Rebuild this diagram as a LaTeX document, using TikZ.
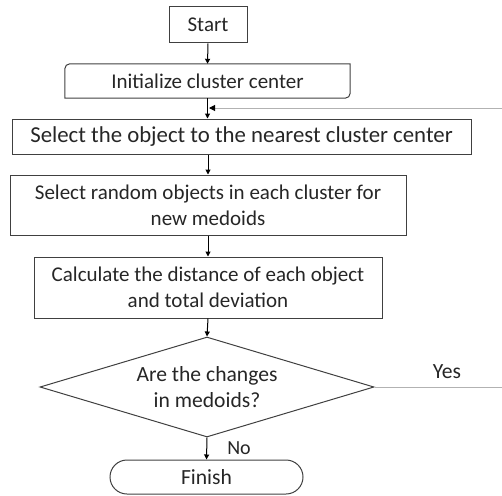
\documentclass[tikz,border=0pt]{standalone}
\usepackage{fontspec}
\setmainfont{Carlito}
\usetikzlibrary{shapes.geometric,shapes.misc,arrows.meta,calc}
\begin{document}
\begin{tikzpicture}[x=1pt,y=-1pt,
  every node/.style={font=\fontsize{21}{26}\selectfont, text=black!85, align=center, inner sep=0pt},
  big/.style={font=\fontsize{22.8}{26}\selectfont},
  mid/.style={font=\fontsize{21.6}{26}\selectfont},
  box/.style={draw=black!75, line width=1pt, rectangle},
  flow/.style={draw=black, line width=1pt, -{Triangle[length=5pt,width=5pt]}},
  loopline/.style={draw=black!30, line width=1pt},
  looparrow/.style={draw=black!30, line width=1pt, -{Triangle[length=6pt,width=6pt,color=black]}}]
\useasboundingbox (0,0) rectangle (502,495);
\node[box, minimum width=78pt, minimum height=36pt] (start) at (208,25) {Start};
\node[minimum width=285pt, minimum height=34pt] (init) at (207.5,81) {Initialize cluster center};
\draw[black!75, line width=1pt] (init.west) [rounded corners=5pt] |- (init.north) [sharp corners] -| (init.east) [rounded corners=5pt] |- (init.south) [sharp corners] -| (init.west);
\node[box, big, minimum width=459pt, minimum height=35pt] (sel) at (241.5,136.5) {Select the object to the nearest cluster center};
\node[box, minimum width=396pt, minimum height=60pt] (rand) at (208,205) {Select random objects in each cluster for\\new medoids};
\node[box, minimum width=348pt, minimum height=61pt] (calc) at (208,287.5) {Calculate the distance of each object\\and total deviation};
\node[draw=black!75, line width=1pt, diamond, aspect=3.34, minimum width=334pt, minimum height=100pt, mid] (dec) at (207,387) {Are the changes\\in medoids?};
\node[draw=black!75, line width=1pt, rounded rectangle, minimum width=193pt, minimum height=34pt, mid] (fin) at (206.5,477) {Finish};
\node[mid] (yes) at (447,372) {Yes};
\node[font=\fontsize{20}{24}\selectfont] (no) at (239,448) {No};
\coordinate (yesend) at (502,387);
\coordinate (loopstart) at (502,108);
\coordinate (loopend) at (209,108);
\draw[flow] (start.south) -- (init.north);
\draw[flow] (init.south) -- (init.south |- sel.north);
\draw[flow] (rand.north |- sel.south) -- (rand.north);
\draw[flow] (rand.south) -- (calc.north);
\draw[flow] (calc.south) -- (dec.north);
\draw[flow] (dec.south) -- (fin.north);
\draw[loopline] (dec.east) -- (yesend);
\draw[looparrow] (loopstart) -- (loopend);
\end{tikzpicture}
\end{document}
